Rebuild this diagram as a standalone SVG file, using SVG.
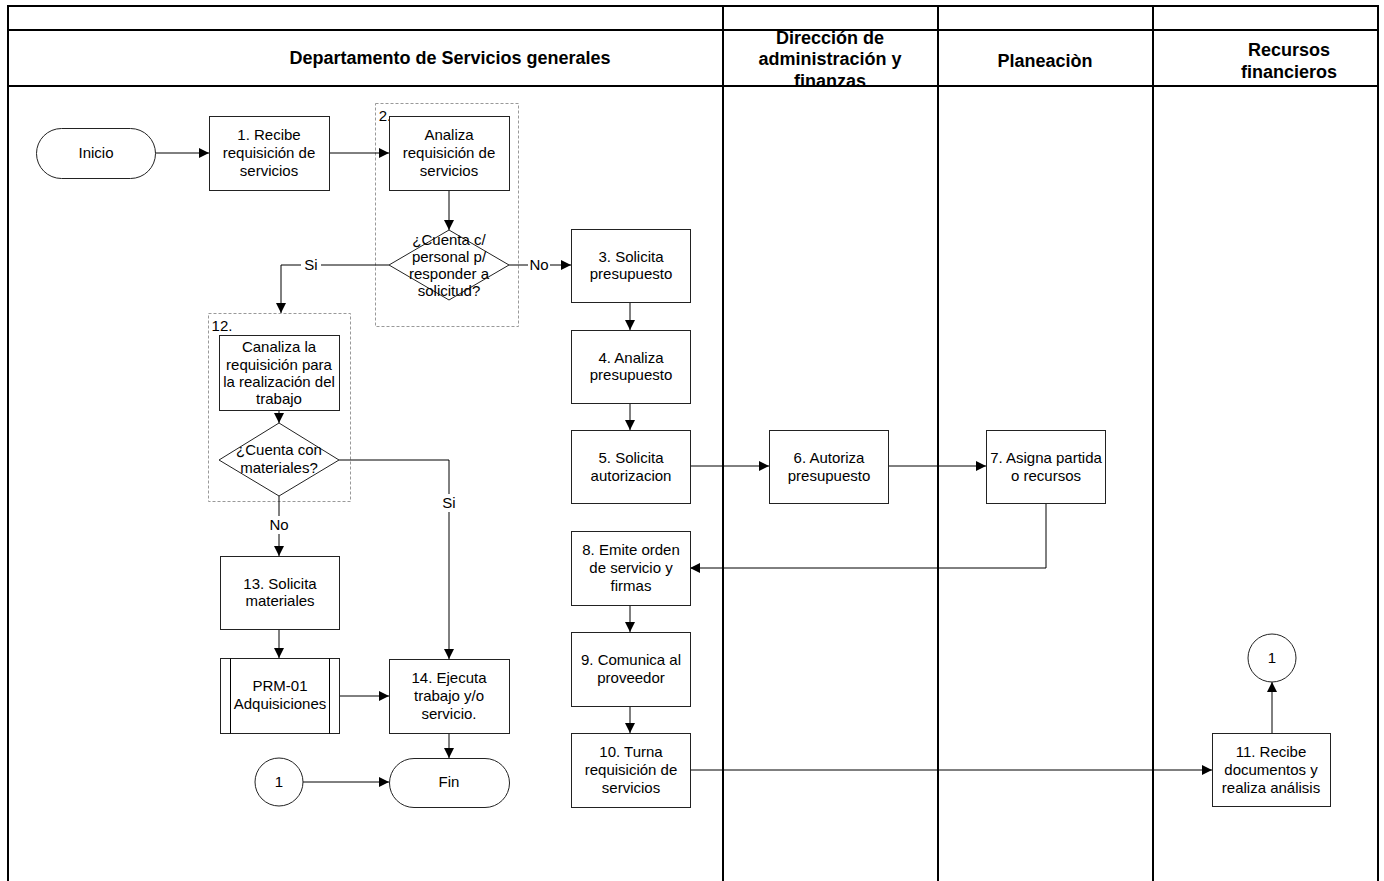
<svg xmlns="http://www.w3.org/2000/svg" width="1384" height="881" viewBox="0 0 1384 881">
<style>
text{font-family:"Liberation Sans",Arial,sans-serif;font-size:15px;fill:#000;text-anchor:middle}
.hd{font-size:18px;font-weight:bold}
.box{fill:#fff;stroke:#222;stroke-width:1}
.grp{fill:none;stroke:#999;stroke-width:1;stroke-dasharray:3,2}
.ln{fill:none;stroke:#000;stroke-width:1}
.frame{fill:none;stroke:#000;stroke-width:2}
.lbl{fill:#fff;stroke:none}
</style>
<defs>
<marker id="arr" viewBox="0 0 10 10" refX="10" refY="5" markerWidth="10" markerHeight="10" markerUnits="userSpaceOnUse" orient="auto">
<path d="M0,0 L10,5 L0,10 z" fill="#000"/>
</marker>
</defs>
<rect width="1384" height="881" fill="#fff"/>
<g id="lanes">
<path class="frame" d="M8,881 V6 H1378 V881 M8,30 H1378 M8,86 H1378 M723,6 V881 M938,6 V881 M1153,6 V881"/>
<text class="hd" x="450" y="64">Departamento de Servicios generales</text>
<text class="hd" x="830" y="44">Dirección de</text>
<text class="hd" x="830" y="65">administración y</text>
<text class="hd" x="830" y="87">finanzas</text>
<text class="hd" x="1045" y="67">Planeaciòn</text>
<text class="hd" x="1289" y="56">Recursos</text>
<text class="hd" x="1289" y="78">financieros</text>
</g>
<g id="groups">
<rect class="grp" x="375.5" y="103.5" width="143" height="223"/>
<text x="385" y="121">2.</text>
<rect class="grp" x="208.5" y="313.5" width="142" height="188"/>
<text x="222" y="331">12.</text>
</g>
<g id="connectors">
<path class="ln" d="M155,153 H209" marker-end="url(#arr)"/>
<path class="ln" d="M329,153 H389" marker-end="url(#arr)"/>
<path class="ln" d="M449,190 V230" marker-end="url(#arr)"/>
<path class="ln" d="M389,265 H281 V313" marker-end="url(#arr)"/>
<path class="ln" d="M509,265 H571" marker-end="url(#arr)"/>
<path class="ln" d="M630,302 V330" marker-end="url(#arr)"/>
<path class="ln" d="M630,403 V430" marker-end="url(#arr)"/>
<path class="ln" d="M690,466 H769" marker-end="url(#arr)"/>
<path class="ln" d="M888,466 H986" marker-end="url(#arr)"/>
<path class="ln" d="M1046,503 V568 H690" marker-end="url(#arr)"/>
<path class="ln" d="M630,605 V632" marker-end="url(#arr)"/>
<path class="ln" d="M630,706 V733" marker-end="url(#arr)"/>
<path class="ln" d="M690,770 H1212" marker-end="url(#arr)"/>
<path class="ln" d="M1272,733 V682" marker-end="url(#arr)"/>
<path class="ln" d="M279,410 V423" marker-end="url(#arr)"/>
<path class="ln" d="M339,460 H449 V659" marker-end="url(#arr)"/>
<path class="ln" d="M279,496 V556" marker-end="url(#arr)"/>
<path class="ln" d="M279,629 V658" marker-end="url(#arr)"/>
<path class="ln" d="M339,696 H389" marker-end="url(#arr)"/>
<path class="ln" d="M449,733 V758" marker-end="url(#arr)"/>
<path class="ln" d="M303,782 H389" marker-end="url(#arr)"/>
<rect class="lbl" x="301" y="257" width="20" height="16"/>
<text x="311" y="270">Si</text>
<rect class="lbl" x="528" y="257" width="22" height="16"/>
<text x="539" y="270">No</text>
<rect class="lbl" x="440" y="494" width="18" height="18"/>
<text x="449" y="508">Si</text>
<rect class="lbl" x="268" y="516" width="22" height="18"/>
<text x="279" y="530">No</text>
</g>
<g id="inicio">
<rect class="box" x="36.5" y="128.5" width="119" height="50" rx="25"/>
<text x="96" y="158">Inicio</text>
</g>
<g id="n1">
<rect class="box" x="209.5" y="116.5" width="120" height="74"/>
<text x="269" y="140">1. Recibe</text>
<text x="269" y="158">requisición de</text>
<text x="269" y="176">servicios</text>
</g>
<g id="n2">
<rect class="box" x="389.5" y="116.5" width="120" height="74"/>
<text x="449" y="140">Analiza</text>
<text x="449" y="158">requisición de</text>
<text x="449" y="176">servicios</text>
</g>
<g id="d2">
<path class="box" d="M449,230 L509,265 L449,300 L389,265 Z"/>
<text x="449" y="245">¿Cuenta c/</text>
<text x="449" y="262">personal p/</text>
<text x="449" y="279">responder a</text>
<text x="449" y="296">solicitud?</text>
</g>
<g id="n3">
<rect class="box" x="571.5" y="229.5" width="119" height="73"/>
<text x="631" y="262">3. Solicita</text>
<text x="631" y="279">presupuesto</text>
</g>
<g id="n4">
<rect class="box" x="571.5" y="330.5" width="119" height="73"/>
<text x="631" y="363">4. Analiza</text>
<text x="631" y="380">presupuesto</text>
</g>
<g id="n5">
<rect class="box" x="571.5" y="430.5" width="119" height="73"/>
<text x="631" y="463">5. Solicita</text>
<text x="631" y="481">autorizacion</text>
</g>
<g id="n6">
<rect class="box" x="769.5" y="430.5" width="119" height="73"/>
<text x="829" y="463">6. Autoriza</text>
<text x="829" y="481">presupuesto</text>
</g>
<g id="n7">
<rect class="box" x="986.5" y="430.5" width="119" height="73"/>
<text x="1046" y="463">7. Asigna partida</text>
<text x="1046" y="481">o recursos</text>
</g>
<g id="n8">
<rect class="box" x="571.5" y="531.5" width="119" height="74"/>
<text x="631" y="555">8. Emite orden</text>
<text x="631" y="573">de servicio y</text>
<text x="631" y="591">firmas</text>
</g>
<g id="n9">
<rect class="box" x="571.5" y="632.5" width="119" height="74"/>
<text x="631" y="665">9. Comunica al</text>
<text x="631" y="683">proveedor</text>
</g>
<g id="n10">
<rect class="box" x="571.5" y="733.5" width="119" height="74"/>
<text x="631" y="757">10. Turna</text>
<text x="631" y="775">requisición de</text>
<text x="631" y="793">servicios</text>
</g>
<g id="n11">
<rect class="box" x="1212.5" y="733.5" width="118" height="73"/>
<text x="1271" y="757">11. Recibe</text>
<text x="1271" y="775">documentos y</text>
<text x="1271" y="793">realiza análisis</text>
</g>
<g id="c1top">
<circle class="box" cx="1272" cy="658" r="24"/>
<text x="1272" y="663">1</text>
</g>
<g id="n12">
<rect class="box" x="219.5" y="335.5" width="120" height="75"/>
<text x="279" y="352">Canaliza la</text>
<text x="279" y="370">requisición para</text>
<text x="279" y="387">la realización del</text>
<text x="279" y="404">trabajo</text>
</g>
<g id="d12">
<path class="box" d="M279,423 L339,460 L279,496 L219,460 Z"/>
<text x="279" y="455">¿Cuenta con</text>
<text x="279" y="473">materiales?</text>
</g>
<g id="n13">
<rect class="box" x="220.5" y="556.5" width="119" height="73"/>
<text x="280" y="589">13. Solicita</text>
<text x="280" y="606">materiales</text>
</g>
<g id="prm">
<rect class="box" x="220.5" y="658.5" width="119" height="75"/>
<path class="ln" d="M230.5,658.5 V733.5 M329.5,658.5 V733.5"/>
<text x="280" y="691">PRM-01</text>
<text x="280" y="709">Adquisiciones</text>
</g>
<g id="n14">
<rect class="box" x="389.5" y="659.5" width="120" height="74"/>
<text x="449" y="683">14. Ejecuta</text>
<text x="449" y="701">trabajo y/o</text>
<text x="449" y="719">servicio.</text>
</g>
<g id="fin">
<rect class="box" x="389.5" y="758.5" width="120" height="49" rx="24.5"/>
<text x="449" y="787">Fin</text>
</g>
<g id="c1bottom">
<circle class="box" cx="279" cy="782" r="24"/>
<text x="279" y="787">1</text>
</g>
</svg>
